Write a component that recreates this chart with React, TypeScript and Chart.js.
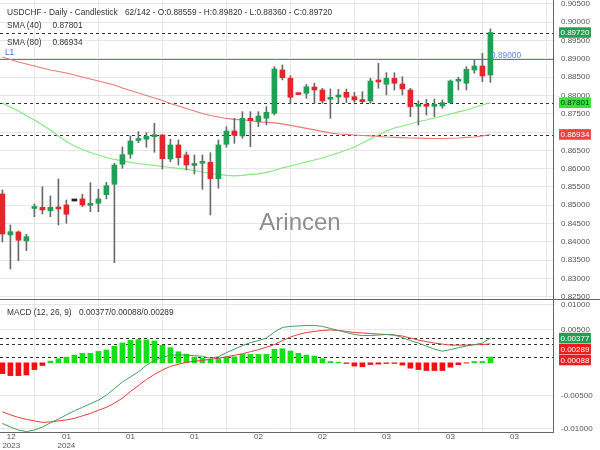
import React, { useEffect, useRef } from "react";
import { Chart, registerables } from "chart.js";
Chart.register(...registerables);

// ---------- data ----------
const opens = [0.85309,0.84190,0.84271,0.84025,0.84913,0.84945,0.84853,0.84945,0.85009,0.85118,0.85173,0.84999,0.85055,0.85290,0.85574,0.86121,0.86394,0.86770,0.86804,0.86875,0.86921,0.86265,0.86648,0.86375,0.86088,0.86148,0.86175,0.85727,0.86667,0.87030,0.86894,0.87377,0.87284,0.87377,0.87514,0.88697,0.88470,0.88040,0.88060,0.88232,0.88150,0.87896,0.87959,0.88088,0.87967,0.87877,0.87850,0.88385,0.88306,0.88470,0.88314,0.88150,0.87705,0.87720,0.87705,0.87713,0.87804,0.88390,0.88334,0.88697,0.88806,0.88559];
const highs = [0.85418,0.84462,0.84298,0.84208,0.85036,0.85509,0.85255,0.85719,0.85145,0.85118,0.85301,0.85618,0.85437,0.85629,0.86148,0.86593,0.86894,0.87011,0.86984,0.87241,0.86935,0.86804,0.86785,0.86457,0.86375,0.86375,0.86437,0.86785,0.87148,0.87377,0.87558,0.87558,0.87558,0.87694,0.88787,0.88834,0.88541,0.88045,0.88306,0.88334,0.88197,0.88178,0.88170,0.88178,0.88088,0.88104,0.88470,0.88880,0.88623,0.88623,0.88514,0.88197,0.87858,0.87896,0.87904,0.87877,0.88424,0.88497,0.88787,0.88970,0.89153,0.89820];
const lows = [0.83998,0.83260,0.83487,0.83760,0.84689,0.84763,0.84689,0.84462,0.84509,0.85118,0.84962,0.84826,0.84826,0.85173,0.83432,0.86011,0.86284,0.86711,0.86585,0.86448,0.85992,0.86192,0.86101,0.85965,0.85856,0.85437,0.84736,0.85465,0.86585,0.86694,0.86831,0.86601,0.87148,0.87194,0.87467,0.88424,0.87787,0.88020,0.87924,0.87787,0.87787,0.87377,0.87804,0.87804,0.87814,0.87804,0.87787,0.88197,0.88014,0.88150,0.88014,0.87421,0.87194,0.87467,0.87421,0.87650,0.87787,0.88150,0.88150,0.88607,0.88377,0.88360];
const closes = [0.84216,0.84279,0.84044,0.84143,0.84968,0.84872,0.84945,0.84899,0.84755,0.85118,0.85009,0.85036,0.85173,0.85536,0.86101,0.86383,0.86757,0.86790,0.86886,0.86913,0.86274,0.86648,0.86301,0.86101,0.86115,0.86175,0.85727,0.86648,0.87030,0.86913,0.87377,0.87312,0.87440,0.87541,0.88724,0.88487,0.87951,0.88025,0.88241,0.88150,0.87850,0.87951,0.88014,0.87951,0.87877,0.87831,0.88396,0.88370,0.88470,0.88334,0.88178,0.87694,0.87720,0.87705,0.87725,0.87804,0.88396,0.88402,0.88716,0.88806,0.88533,0.89720];
const sma40 = [0.87795,0.87686,0.87577,0.87454,0.87331,0.87194,0.87058,0.86894,0.86744,0.86621,0.86525,0.86443,0.86375,0.86306,0.86252,0.86211,0.86170,0.86142,0.86115,0.86088,0.86060,0.86033,0.86006,0.85979,0.85951,0.85910,0.85869,0.85842,0.85815,0.85801,0.85815,0.85842,0.85856,0.85897,0.85951,0.86020,0.86074,0.86129,0.86184,0.86238,0.86293,0.86361,0.86430,0.86511,0.86593,0.86703,0.86812,0.86921,0.87030,0.87112,0.87167,0.87222,0.87290,0.87331,0.87386,0.87440,0.87495,0.87550,0.87604,0.87672,0.87741,0.87801];
const sma80 = [0.89052,0.88984,0.88915,0.88861,0.88806,0.88751,0.88697,0.88656,0.88615,0.88560,0.88506,0.88451,0.88396,0.88342,0.88287,0.88205,0.88137,0.88068,0.88000,0.87932,0.87864,0.87782,0.87713,0.87645,0.87577,0.87508,0.87454,0.87413,0.87372,0.87345,0.87331,0.87317,0.87276,0.87263,0.87249,0.87222,0.87181,0.87140,0.87099,0.87058,0.87017,0.86976,0.86948,0.86935,0.86921,0.86907,0.86894,0.86880,0.86866,0.86858,0.86850,0.86839,0.86834,0.86828,0.86825,0.86825,0.86831,0.86839,0.86853,0.86866,0.86895,0.86934];
const macdLine = [-0.00923,-0.00977,-0.01023,-0.01046,-0.01023,-0.00977,-0.00915,-0.00854,-0.00792,-0.00731,-0.00677,-0.00623,-0.00569,-0.00492,-0.00392,-0.00292,-0.00215,-0.00138,-0.00038,0.00038,0.00085,0.00115,0.00123,0.00115,0.00108,0.00100,0.00069,0.00092,0.00154,0.00208,0.00261,0.00308,0.00338,0.00377,0.00469,0.00538,0.00554,0.00561,0.00569,0.00569,0.00554,0.00523,0.00492,0.00461,0.00431,0.00415,0.00415,0.00423,0.00431,0.00423,0.00385,0.00338,0.00300,0.00254,0.00208,0.00177,0.00200,0.00231,0.00254,0.00277,0.00300,0.00377];
const signalLine = [-0.00746,-0.00792,-0.00831,-0.00861,-0.00884,-0.00907,-0.00900,-0.00884,-0.00869,-0.00846,-0.00807,-0.00769,-0.00723,-0.00677,-0.00615,-0.00538,-0.00438,-0.00346,-0.00254,-0.00177,-0.00108,-0.00054,-0.00023,0.00008,0.00023,0.00038,0.00054,0.00069,0.00092,0.00115,0.00138,0.00169,0.00200,0.00238,0.00277,0.00338,0.00392,0.00431,0.00461,0.00477,0.00492,0.00500,0.00492,0.00477,0.00461,0.00454,0.00446,0.00438,0.00431,0.00423,0.00408,0.00377,0.00346,0.00323,0.00300,0.00285,0.00269,0.00269,0.00269,0.00277,0.00277,0.00289];
const histogram = [-0.00164,-0.00195,-0.00195,-0.00185,-0.00103,-0.00041,0.00026,0.00062,0.00087,0.00118,0.00144,0.00144,0.00174,0.00195,0.00251,0.00303,0.00344,0.00354,0.00349,0.00333,0.00267,0.00231,0.00169,0.00133,0.00087,0.00072,0.00051,0.00062,0.00087,0.00092,0.00128,0.00128,0.00128,0.00128,0.00205,0.00215,0.00180,0.00144,0.00118,0.00103,0.00062,0.00020,0.00010,-0.00010,-0.00050,-0.00060,-0.00026,-0.00020,-0.00010,-0.00010,-0.00035,-0.00082,-0.00103,-0.00118,-0.00118,-0.00118,-0.00067,-0.00030,-0.00005,0.00020,0.00020,0.00088];

const priceTicks = [0.825,0.83,0.835,0.84,0.845,0.85,0.855,0.86,0.865,0.87,0.875,0.88,0.885,0.89,0.895,0.9,0.905];
const macdTickValues = [0.0088, 0.005, -0.005, -0.01];
const macdTickLabels = ["0.01000", "0.00500", "-0.00500", "-0.01000"];
const dateTickIndex = [0, 8, 16, 24, 32, 40, 48, 56, 64];
const dateTickLabels: (string | string[])[] = [["  12", "2023"], ["01", "2024"], "01", "01", "02", "02", "03", "03", "03"];
const levelLine = 0.89;

// ---------- styling ----------
const FONT = '"Liberation Sans", Arial, sans-serif';
const GREEN = "#21a055";
const RED = "#e2262a";
const GRID = "#e6e6e6";
const AXIS = "#666";
const X_MIN = -0.3;
const X_MAX = 68.825;

function drawTag(ctx: CanvasRenderingContext2D, x: number, yc: number, text: string, bg: string, fg: string) {
  ctx.save();
  ctx.font = `8px ${FONT}`;
  const w = ctx.measureText(text).width + 3;
  ctx.fillStyle = bg;
  ctx.fillRect(x, yc - 5.25, w, 10.5);
  ctx.fillStyle = fg;
  ctx.textAlign = "left";
  ctx.textBaseline = "middle";
  ctx.fillText(text, x + 1.5, yc + 0.5);
  ctx.restore();
}

function hline(ctx: CanvasRenderingContext2D, a: any, y: number, color: string, dash: number[]) {
  const yy = Math.round(y) + 0.5;
  ctx.save();
  ctx.strokeStyle = color;
  ctx.lineWidth = 1;
  ctx.setLineDash(dash);
  ctx.beginPath();
  ctx.moveTo(a.left, yy);
  ctx.lineTo(a.right, yy);
  ctx.stroke();
  ctx.restore();
}

const last = closes.length - 1;

const mainOverlay = {
  id: "mainOverlay",
  beforeDatasetsDraw(chart: any) {
    const { ctx, chartArea: a, scales } = chart;
    const y = scales.y;
    hline(ctx, a, y.getPixelForValue(levelLine), "#e04848", []);
    hline(ctx, a, y.getPixelForValue(closes[last]), "#333", [3, 3]);
    hline(ctx, a, y.getPixelForValue(sma40[last]), "#333", [3, 3]);
    hline(ctx, a, y.getPixelForValue(sma80[last]), "#333", [3, 3]);
  },
  afterDraw(chart: any) {
    const { ctx, scales, width } = chart;
    const y = scales.y;
    drawTag(ctx, 559, y.getPixelForValue(closes[last]), closes[last].toFixed(5), GREEN, "#fff");
    drawTag(ctx, 559, y.getPixelForValue(sma40[last]), sma40[last].toFixed(5), "#33e633", "#123");
    drawTag(ctx, 559, y.getPixelForValue(sma80[last]), sma80[last].toFixed(5), "#f04040", "#fff");
    ctx.save();
    ctx.strokeStyle = AXIS;
    ctx.lineWidth = 1;
    ctx.beginPath();
    ctx.moveTo(0, chart.height - 0.5);
    ctx.lineTo(width, chart.height - 0.5);
    ctx.stroke();
    ctx.restore();
  },
};

const macdOverlay = {
  id: "macdOverlay",
  beforeDatasetsDraw(chart: any) {
    const { ctx, chartArea: a, scales } = chart;
    const y = scales.y;
    hline(ctx, a, y.getPixelForValue(macdLine[last]), "#333", [3, 3]);
    hline(ctx, a, y.getPixelForValue(signalLine[last]), "#333", [3, 3]);
    hline(ctx, a, y.getPixelForValue(histogram[last]), "#333", [3, 3]);
  },
  afterDraw(chart: any) {
    const { ctx, scales } = chart;
    const y = scales.y;
    const items = [
      { v: macdLine[last], bg: GREEN },
      { v: signalLine[last], bg: "#ee1c1c" },
      { v: histogram[last], bg: "#ee1c1c" },
    ];
    let prevBottom = -Infinity;
    for (const it of items) {
      let yc = y.getPixelForValue(it.v);
      if (yc - 5.5 < prevBottom) yc = prevBottom + 5.5;
      drawTag(ctx, 559, yc, it.v.toFixed(5), it.bg, "#fff");
      prevBottom = yc + 5.5;
    }
  },
};

function zeroPad(s: any) {
  s.paddingTop = 0;
  s.paddingBottom = 0;
  s.paddingLeft = 0;
  s.paddingRight = 0;
}

export default function App() {
  const mainRef = useRef<HTMLCanvasElement>(null);
  const macdRef = useRef<HTMLCanvasElement>(null);

  useEffect(() => {
    document.body.style.margin = "0";
    Chart.defaults.font.family = FONT;
    const idx = opens.map((_, i) => i);
    const candleColor = (i: number) =>
      closes[i] > opens[i] ? GREEN : closes[i] < opens[i] ? RED : "#222";

    const xBase = {
      type: "linear" as const,
      min: X_MIN,
      max: X_MAX,
      offset: false,
    };

    const main = new Chart(mainRef.current!, {
      type: "bar",
      data: {
        datasets: [
          {
            type: "line",
            data: idx.map((i) => ({ x: i, y: sma80[i] })),
            borderColor: "#f07878",
            borderWidth: 1.2,
            pointRadius: 0,
            order: 6,
          } as any,
          {
            type: "line",
            data: idx.map((i) => ({ x: i, y: sma40[i] })),
            borderColor: "#84e884",
            borderWidth: 1.2,
            pointRadius: 0,
            order: 5,
          } as any,
          {
            type: "bar",
            data: idx.map((i) => ({ x: i, y: [lows[i], highs[i]] })),
            backgroundColor: "#6a6a6a",
            barThickness: 1,
            grouped: false,
            order: 3,
          } as any,
          {
            type: "bar",
            data: idx.map((i) => ({ x: i, y: [opens[i], closes[i]] })),
            backgroundColor: idx.map(candleColor),
            barThickness: 5,
            minBarLength: 2,
            grouped: false,
            order: 2,
          } as any,
        ],
      },
      options: {
        responsive: false,
        animation: false,
        devicePixelRatio: 1,
        events: [],
        layout: { padding: 0 },
        plugins: { legend: { display: false }, tooltip: { enabled: false } },
        scales: {
          x: {
            ...xBase,
            afterBuildTicks: (s: any) => {
              s.ticks = dateTickIndex.map((v) => ({ value: v }));
            },
            afterFit: (s: any) => {
              s.height = 0;
              zeroPad(s);
            },
            ticks: { display: false },
            grid: { color: GRID, drawTicks: false },
            border: { display: false },
          },
          y: {
            position: "right",
            min: 0.82412,
            max: 0.90609,
            afterBuildTicks: (s: any) => {
              s.ticks = priceTicks.map((v) => ({ value: v }));
            },
            afterFit: (s: any) => {
              s.width = 47;
              zeroPad(s);
            },
            ticks: {
              callback: (v: any) => Number(v).toFixed(5),
              font: { size: 8 },
              color: "#555",
              padding: 8,
            },
            grid: { color: GRID, drawTicks: false },
            border: { display: true, color: AXIS },
          },
        },
      } as any,
      plugins: [mainOverlay],
    });

    const macd = new Chart(macdRef.current!, {
      type: "bar",
      data: {
        datasets: [
          {
            type: "line",
            data: idx.map((i) => ({ x: i, y: signalLine[i] })),
            borderColor: "#ee3a3a",
            borderWidth: 1,
            pointRadius: 0,
            order: 4,
          } as any,
          {
            type: "line",
            data: idx.map((i) => ({ x: i, y: macdLine[i] })),
            borderColor: "#3f9f5f",
            borderWidth: 1,
            pointRadius: 0,
            order: 3,
          } as any,
          {
            type: "bar",
            data: idx.map((i) => ({ x: i, y: histogram[i] })),
            backgroundColor: idx.map((i) => (histogram[i] >= 0 ? "#14e014" : "#ee1111")),
            barThickness: 5,
            grouped: false,
            order: 5,
          } as any,
        ],
      },
      options: {
        responsive: false,
        animation: false,
        devicePixelRatio: 1,
        events: [],
        layout: { padding: 0 },
        plugins: { legend: { display: false }, tooltip: { enabled: false } },
        scales: {
          x: {
            ...xBase,
            afterBuildTicks: (s: any) => {
              s.ticks = [...dateTickIndex, 68.5].map((v) => ({ value: v }));
            },
            afterFit: (s: any) => {
              s.height = 18;
              zeroPad(s);
            },
            ticks: {
              align: "inner",
              autoSkip: false,
              maxRotation: 0,
              minRotation: 0,
              padding: 0,
              font: { size: 8, lineHeight: 1.15 },
              color: "#555",
              callback: (_v: any, i: number) => (i < dateTickLabels.length ? dateTickLabels[i] : ""),
            },
            grid: {
              color: (c: any) => (c.tick && c.tick.value > 66 ? "rgba(0,0,0,0)" : GRID),
              drawTicks: false,
            },
            border: { display: true, color: AXIS },
          },
          y: {
            position: "right",
            min: -0.01053,
            max: 0.00956,
            afterBuildTicks: (s: any) => {
              s.ticks = macdTickValues.map((v) => ({ value: v }));
            },
            afterFit: (s: any) => {
              s.width = 47;
              zeroPad(s);
            },
            ticks: {
              callback: (_v: any, i: number) => macdTickLabels[i],
              font: { size: 8 },
              color: "#555",
              padding: 8,
            },
            grid: { color: GRID, drawTicks: false },
            border: { display: true, color: AXIS },
          },
        },
      } as any,
      plugins: [macdOverlay],
    });

    return () => {
      main.destroy();
      macd.destroy();
    };
  }, []);

  const txt = (extra: React.CSSProperties): React.CSSProperties => ({
    position: "absolute",
    fontFamily: FONT,
    fontSize: 8.3,
    lineHeight: "10px",
    color: "#333",
    whiteSpace: "pre",
    pointerEvents: "none",
    ...extra,
  });

  return (
    <div style={{ position: "relative", width: 600, height: 450, background: "#fff", overflow: "hidden" }}>
      <canvas ref={mainRef} width={600} height={300} style={{ position: "absolute", left: 0, top: 0, width: 600, height: 300 }} />
      <canvas ref={macdRef} width={600} height={150} style={{ position: "absolute", left: 0, top: 300, width: 600, height: 150 }} />
      <div style={txt({ left: 7, top: 6.5 })}>USDCHF - Daily - Candlestick</div>
      <div style={txt({ left: 125, top: 6.5 })}>62/142 - O:0.88559 - H:0.89820 - L:0.88360 - C:0.89720</div>
      <div style={txt({ left: 7, top: 20 })}>SMA (40)</div>
      <div style={txt({ left: 52.5, top: 20 })}>0.87801</div>
      <div style={txt({ left: 7, top: 36.5 })}>SMA (80)</div>
      <div style={txt({ left: 52.5, top: 36.5 })}>0.86934</div>
      <div style={txt({ left: 5, top: 46.5, color: "#3a6fd8" })}>L1</div>
      <div style={txt({ left: 491, top: 49.5, color: "#5b8ae0" })}>0.89000</div>
      <div style={txt({ left: 7, top: 306.5 })}>MACD (12, 26, 9)</div>
      <div style={txt({ left: 79, top: 306.5 })}>0.00377/0.00088/0.00289</div>
      <div
        style={{
          position: "absolute",
          left: 0,
          width: 600,
          top: 208,
          textAlign: "center",
          fontFamily: FONT,
          fontSize: 24,
          lineHeight: "28px",
          color: "#8e8e8e",
          pointerEvents: "none",
        }}
      >
        Arincen
      </div>
    </div>
  );
}
